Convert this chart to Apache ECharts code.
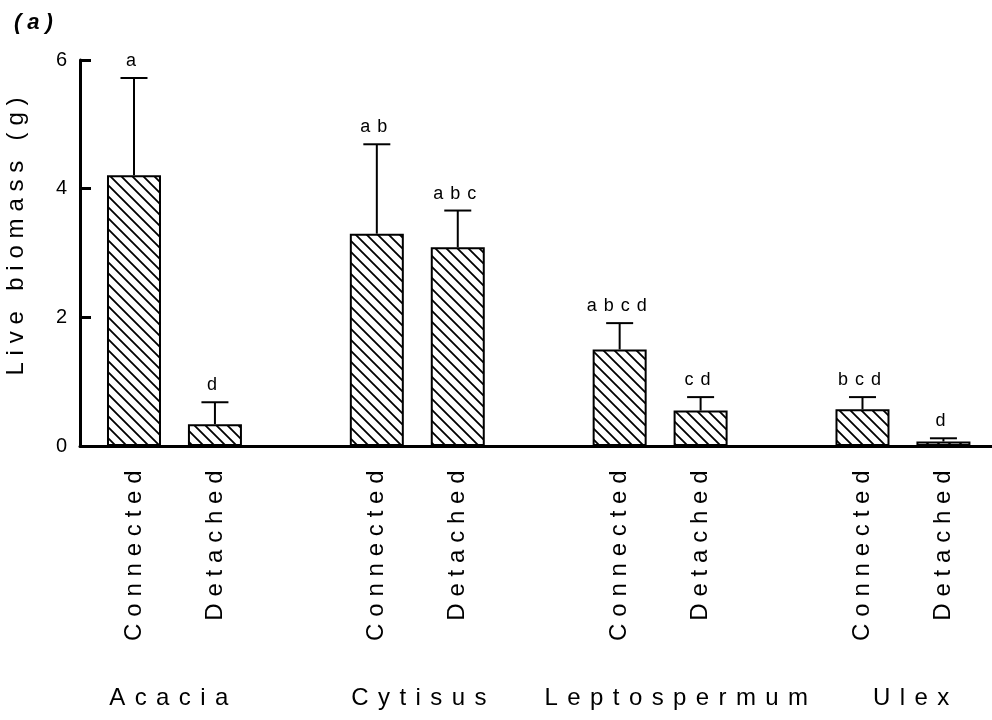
<!DOCTYPE html>
<html>
<head>
<meta charset="utf-8">
<script src="https://cdn.jsdelivr.net/npm/echarts@6/dist/echarts.min.js"></script>
<style>
  html, body { margin: 0; background: #fff; }
  #chart { width: 992px; height: 720px; }
</style>
</head>
<body>
<div id="chart"></div>
<script>
;(function () {
  const groups = ['Acacia', 'Cytisus', 'Leptospermum', 'Ulex']
  const treatments = ['Connected', 'Detached']
  const barPos = [0, 1, 3, 4, 6, 7, 9, 10]
  const biomass = [4.21, 0.34, 3.3, 3.09, 1.5, 0.55, 0.57, 0.07]
  const stdErr = [1.51, 0.34, 1.39, 0.57, 0.41, 0.21, 0.19, 0.05]
  const letters = ['a', 'd', 'ab', 'abc', 'abcd', 'cd', 'bcd', 'd']

  // where the species names sit along the x axis (not centred in the original)
  const groupLabelAt = [0.43, 3.52, 6.7, 9.6]

  const FONT = 'Liberation Sans, Arial, Helvetica, sans-serif'

  // letter-spaced text: every char is its own rich token with side padding
  function spaced(text) {
    return text.split('').map((c) => `{l|${c}}`).join('')
  }

  function hatch() {
    const size = 11
    const tile = document.createElement('canvas')
    tile.width = tile.height = size
    const ctx = tile.getContext('2d')
    ctx.fillStyle = '#fff'
    ctx.fillRect(0, 0, size, size)
    ctx.strokeStyle = '#000'
    ctx.lineWidth = 1.8
    ctx.beginPath()
    ctx.moveTo(-1, -1); ctx.lineTo(size + 1, size + 1)
    ctx.moveTo(-size / 2 - 1, size / 2 - 1); ctx.lineTo(size / 2 + 1, size * 1.5 + 1)
    ctx.moveTo(size / 2 - 1, -size / 2 - 1); ctx.lineTo(size * 1.5 + 1, size / 2 + 1)
    ctx.stroke()
    return tile
  }

  function renderError(params, api) {
    const i = params.dataIndex
    const base = api.coord([api.value(0), api.value(1)])
    const top = api.coord([api.value(0), api.value(1) + api.value(2)])
    const half = 13.5
    return {
      type: 'group',
      children: [
        { type: 'line', shape: { x1: base[0], y1: base[1], x2: top[0], y2: top[1] }, style: { stroke: '#000', lineWidth: 2 } },
        { type: 'line', shape: { x1: top[0] - half, y1: top[1], x2: top[0] + half, y2: top[1] }, style: { stroke: '#000', lineWidth: 2 } },
        {
          type: 'text',
          x: top[0] - 3,
          y: top[1] - 8,
          style: {
            text: spaced(letters[i]),
            fontSize: 18,
            fontFamily: FONT,
            fill: '#000',
            align: 'center',
            verticalAlign: 'bottom',
            rich: { l: { fontSize: 18, fontFamily: FONT, fill: '#000', padding: [0, 3.5] } },
          },
        },
      ],
    }
  }

  const xMin = -0.667
  const xMax = 10.6

  const chart = echarts.init(document.getElementById('chart'))
  chart.setOption({
    animation: false,
    backgroundColor: '#fff',
    title: {
      text: spaced('(a)'),
      left: 11,
      top: 12,
      padding: 0,
      textStyle: {
        fontSize: 22,
        fontWeight: 'bold',
        fontStyle: 'italic',
        fontFamily: FONT,
        color: '#000',
        rich: { l: { fontSize: 22, fontWeight: 'bold', fontStyle: 'italic', fontFamily: FONT, color: '#000', padding: [0, 3] } },
      },
    },
    grid: { left: 80, right: 0, top: 60, bottom: 274, outerBoundsMode: 'none', containLabel: false },
    xAxis: [
      {
        type: 'value',
        min: xMin,
        max: xMax,
        axisLine: { show: true, onZero: false, lineStyle: { color: '#000', width: 3 } },
        axisTick: { show: false },
        splitLine: { show: false },
        axisLabel: {
          customValues: barPos,
          rotate: 90,
          margin: 21,
          color: '#000',
          fontSize: 24,
          fontFamily: FONT,
          formatter: (v) => spaced(treatments[barPos.indexOf(v) % 2]),
          rich: { l: { fontSize: 24, fontFamily: FONT, color: '#000', padding: [0, 3.4] } },
        },
      },
      {
        type: 'value',
        min: xMin,
        max: xMax,
        position: 'bottom',
        axisLine: { show: false },
        axisTick: { show: false },
        splitLine: { show: false },
        axisLabel: {
          customValues: groupLabelAt,
          margin: 240,
          color: '#000',
          fontSize: 24,
          fontFamily: FONT,
          formatter: (v) => spaced(groups[groupLabelAt.indexOf(v)]),
          rich: { l: { fontSize: 24, fontFamily: FONT, color: '#000', padding: [0, 4.7] } },
        },
      },
    ],
    yAxis: {
      type: 'value',
      min: 0,
      max: 6,
      interval: 2,
      axisLine: { show: true, onZero: false, lineStyle: { color: '#000', width: 3 } },
      axisTick: { show: true, inside: true, length: 11, lineStyle: { color: '#000', width: 3 } },
      splitLine: { show: false },
      axisLabel: { color: '#000', fontSize: 20, fontFamily: FONT, margin: 13, padding: [10, 0, 0, 0] },
      name: spaced('Live biomass (g)'),
      nameLocation: 'middle',
      nameGap: 52,
      nameMoveOverlap: false,
      nameTextStyle: {
        fontSize: 24,
        fontFamily: FONT,
        color: '#000',
        padding: [0, 0, 0, 33],
        rich: { l: { fontSize: 24, fontFamily: FONT, color: '#000', padding: [0, 3.4] } },
      },
    },
    series: [
      {
        type: 'bar',
        xAxisIndex: 0,
        barWidth: 54,
        data: barPos.map((x, i) => [x, biomass[i]]),
        itemStyle: { color: { image: hatch(), repeat: 'repeat' }, borderColor: '#000', borderWidth: 2 },
        silent: true,
      },
      {
        type: 'custom',
        xAxisIndex: 0,
        data: barPos.map((x, i) => [x, biomass[i], stdErr[i]]),
        renderItem: renderError,
        z: 3,
        silent: true,
      },
    ],
  })
})()
</script>
</body>
</html>
